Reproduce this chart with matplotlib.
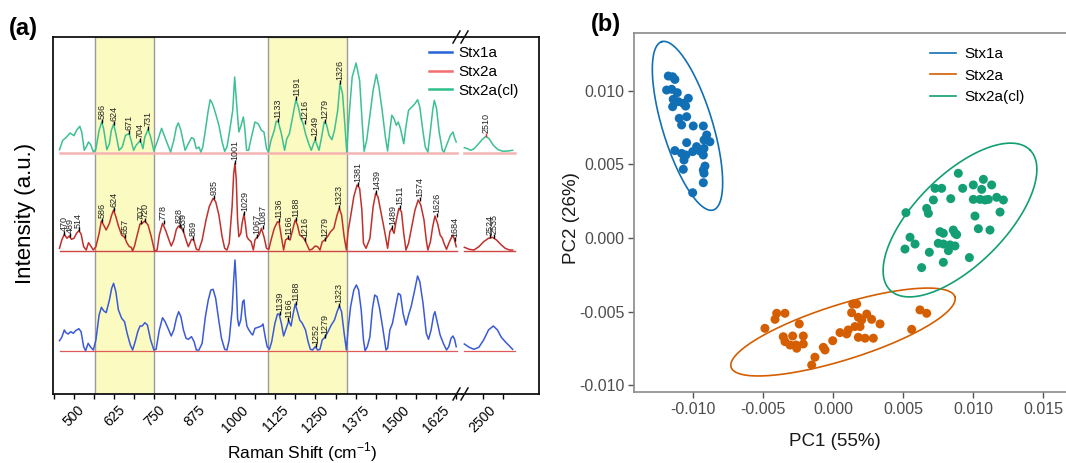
import numpy as np
import matplotlib
matplotlib.use('Agg')
import matplotlib.pyplot as plt
from matplotlib.lines import Line2D
from matplotlib.ticker import FixedLocator, FuncFormatter

plt.rcParams['font.family'] = ['Liberation Sans', 'DejaVu Sans']
plt.rcParams['axes.unicode_minus'] = False

# ---------------- panel (a): Raman spectra (intensity above own baseline, a.u.)
stx2acl_x = [455, 465, 475, 488, 500, 508, 518, 524, 532, 538, 545, 552, 560, 568, 578, 586, 592, 602, 610, 616,
             623, 630, 640, 650, 660, 671, 677, 685, 693, 704, 709, 714, 720, 730, 738, 748, 760, 772, 780, 788,
             800, 810, 818, 824, 832, 845, 855, 865, 872, 880, 888, 894, 900, 908, 917, 923, 930, 940, 950, 960,
             968, 975, 982, 993, 999, 1005, 1012, 1019, 1026, 1030, 1036, 1042, 1050, 1062, 1072, 1082, 1090, 1098, 1104, 1112,
             1122, 1128, 1134, 1144, 1154, 1161, 1169, 1179, 1189, 1197, 1204, 1211, 1219, 1229, 1237, 1244, 1249, 1255, 1261, 1269,
             1277, 1284, 1292, 1301, 1309, 1319, 1326, 1334, 1341, 1347, 1354, 1364, 1376, 1387, 1394, 1401, 1409, 1421, 1429, 1439,
             1447, 1457, 1467, 1474, 1481, 1487, 1494, 1501, 1507, 1514, 1524, 1531, 1539, 1549, 1559, 1567, 1574, 1584, 1591, 1599,
             1607, 1614, 1619, 1626, 1634, 1644, 1649, 1659, 1669, 1677, 1682, 1687]
stx2acl_y = [3.3, 12.7, 15.3, 20, 17.3, 22.7, 26.7, 21, 2.7, 6, 11, 8.3, 1, 4, 22.7, 31, 24.3, 3.3, 9.3, 22.7,
             28.7, 19.3, 2.7, 6, 17.7, 19.3, 13.3, 2.7, 7.7, 12, 10, 4.3, 16, 23.7, 16, 2, 12.7, 24.7, 17.7, 11,
             1, 12.7, 26, 30, 22.7, 2.7, 9.3, 15.3, 14.3, 4.3, 6, 1, 6, 22.7, 42.7, 53.3, 49.3, 39.3, 27.7, 11,
             1.7, 6, 19.3, 42.7, 76, 49.3, 21, 27.7, 36, 26, 2.7, 2.7, 14.3, 31, 29.3, 22.7, 21, 4.3, 1, 12.7,
             22.7, 31.7, 31.7, 19.3, 2.7, 14.3, 19.3, 36, 53.3, 46, 34.3, 30, 19.3, 9.3, 2.7, 9.3, 13.3, 7.7, 2.7, 16,
             31, 28.7, 17.7, 13.3, 22.7, 42.7, 69.3, 59.3, 29.3, 1, 36, 76, 90, 72.7, 36, 1.7, 12.7, 42.7, 62.7, 78.7,
             66, 42.7, 16, 2, 22.7, 37.7, 34.3, 27.7, 31, 24.3, 9.3, 26.7, 42.7, 46, 49.3, 53.3, 46, 21, 6, 1,
             22.7, 42.7, 52.7, 44.3, 21, 2.7, 1, 9.3, 17.7, 21, 15.3, 11]
stx2acl_hx = [2443, 2453, 2463, 2473, 2483, 2498, 2510, 2520, 2533, 2548, 2563, 2578, 2593]
stx2acl_hy = [5.3, 4.3, 2.7, 4.3, 7.7, 13.3, 16.7, 14.3, 7.7, 3.3, 1.7, 2, 2.7]

stx2a_x = [455, 462, 470, 478, 485, 492, 500, 508, 515, 522, 530, 538, 545, 552, 560, 568, 578, 585, 592, 600,
           610, 616, 623, 630, 638, 648, 657, 665, 672, 678, 682, 688, 695, 705, 712, 720, 730, 740, 750, 758,
           765, 775, 785, 795, 802, 810, 818, 825, 832, 840, 848, 855, 865, 872, 880, 888, 898, 910, 920, 932,
           940, 950, 960, 968, 975, 982, 991, 996, 1000, 1004, 1008, 1012, 1018, 1022, 1028, 1032, 1037, 1042, 1050, 1057,
           1062, 1068, 1075, 1082, 1090, 1098, 1105, 1112, 1122, 1132,
           1137, 1144, 1151, 1157, 1164, 1171, 1179, 1187, 1194, 1201, 1209, 1217, 1224, 1231, 1239, 1249, 1257, 1264, 1271,
           1279, 1287, 1297, 1307, 1317, 1324, 1331, 1339, 1346, 1351, 1359, 1369, 1379, 1387, 1394, 1399, 1407, 1419, 1429, 1437,
           1444, 1454, 1464, 1474, 1481, 1487, 1494, 1501, 1509, 1517, 1524, 1531, 1539, 1549, 1559, 1569, 1577, 1587, 1594, 1599,
           1607, 1614, 1621, 1629, 1637, 1644, 1649, 1657, 1664, 1671, 1677, 1682, 1687]
stx2a_y = [2.7, 11, 16.7, 12.7, 15, 11.7, 12.7, 17.7, 20.3, 17, 4.3, 1, 8.3, 5, 1, 4.3, 17.7, 30, 26, 21,
           27.7, 35, 41, 34.3, 25, 16, 13.7, 7.7, 4.3, 3.7, 0, 5, 14.3, 27, 27.7, 30, 26, 14.3, 0, 1,
           16, 27.7, 20.3, 11, 5, 11, 21.7, 25, 23.7, 19.3, 11, 4.3, 11.7, 11, 1.7, 1, 11, 31, 44.3, 52.7,
           49.3, 36, 14.3, 2.7, 1, 7.7, 44.3, 77.7, 87.7, 71, 31, 14.3, 17.7, 27.7, 37, 27.7, 14.3, 11.7, 9.3, 1,
           11, 13.7, 16, 22.7, 14.3, 2.7, 1.7, 11, 22.7, 29.3,
           28.3, 14.3, 1, 11, 12.7, 11, 21, 31, 26, 16, 14.3, 11, 6, 1, 1.7, 5, 4.3, 1, 9.3,
           11, 14.3, 19.3, 22.7, 36, 42.7, 36, 14.3, 1, 19.3, 34.3, 54.3, 66, 62.7, 41, 7.7, 2.7, 12.7, 44.3, 57.7,
           54.3, 37.7, 21, 2.7, 19.3, 22.7, 17.7, 31, 42.7, 39.3, 17.7, 1, 7.7, 24.3, 41, 51, 46, 31, 11, 1,
           9.3, 24.3, 35, 27.7, 16, 12.7, 7.7, 1.7, 7.7, 12.7, 16, 11, 4.3]
stx2a_hx = [2443, 2458, 2473, 2488, 2503, 2518, 2530, 2543, 2558, 2570, 2583, 2593]
stx2a_hy = [3.7, 1.7, 1, 4.3, 9.3, 12.7, 13.7, 11, 6, 2.7, 1, 1]

stx1a_x = [455, 462, 470, 475, 482, 490, 498, 505, 515, 522, 530, 536, 544, 552, 560, 568, 578, 585, 592, 600,
           610, 617, 623, 630, 638, 648, 657, 665, 675, 682, 690, 698, 705, 712, 720, 728, 738, 748, 755, 765,
           775, 783, 792, 802, 810, 818, 825, 832, 840, 848, 855, 865, 873, 880, 888, 898, 908, 917, 925, 932,
           940, 948, 958, 968, 975, 982, 991, 996, 1000, 1004, 1008, 1012, 1018, 1024, 1028, 1032, 1037, 1042, 1050, 1055,
           1062, 1072, 1082, 1087, 1094, 1100, 1107, 1114, 1124, 1132,
           1137, 1144, 1151, 1159, 1167, 1174, 1181, 1187, 1194, 1201, 1209, 1219, 1227, 1234, 1241, 1249, 1257, 1264, 1271,
           1279, 1289, 1299, 1309, 1317, 1324, 1331, 1339, 1346, 1351, 1359, 1369, 1377, 1384, 1392, 1399, 1404, 1411, 1419, 1427,
           1434, 1441, 1449, 1459, 1469, 1474, 1481, 1489, 1497, 1507, 1514, 1522, 1531, 1539, 1547, 1557, 1567, 1574, 1584, 1594,
           1601, 1609, 1617, 1621, 1629, 1637, 1647, 1657, 1664, 1671, 1677, 1682, 1687]
stx1a_y = [10.3, 13.7, 21, 18.3, 17, 19.3, 17.7, 20.3, 22.3, 19.3, 4.3, 0.3, 7.7, 3.7, 1, 11, 36, 43.7, 40.3, 38.3,
           51, 62.7, 67.7, 59.3, 41, 32.7, 29.3, 17.7, 6, 1, 9.3, 19.3, 25, 25, 28.3, 26, 11, 1, 1.7, 21,
           33.3, 29.3, 22.7, 15, 21, 32.7, 39.3, 34.3, 21, 12.7, 11.7, 14.3, 9.3, 1, 1, 7.7, 34.3, 51, 61, 61.7,
           52.7, 34.3, 12.7, 1.7, 1, 11, 41, 71, 91, 67.7, 32.7, 25, 31, 49.3, 51, 36, 25, 21.7, 17.7, 16,
           22.7, 23.7, 25, 27, 13.7, 4.3, 1.7, 9.3, 27.7, 37,
           37, 27.7, 15, 22.7, 30.3, 25, 37.7, 47, 39.3, 31, 27.7, 21, 9.3, 1.7, 1, 4.3, 1, 1.7, 11,
           13.7, 19.3, 26, 31, 39.3, 45, 39.3, 17.7, 1, 21, 44.3, 61, 66, 61, 41, 11, 0.3, 4.3, 14.3, 42.7,
           56, 54.3, 42.7, 22.7, 1, 2.7, 21, 27.7, 41, 57.7, 56, 37.7, 26, 36, 44.3, 59.3, 75, 69.3, 47.7, 17.7,
           11.7, 21, 36, 39.3, 27.7, 16, 7.7, 1, 4.3, 12.7, 15, 11.7, 4.3]
stx1a_hx = [2443, 2458, 2473, 2488, 2503, 2518, 2533, 2546, 2558, 2570, 2583, 2593]
stx1a_hy = [7, 3.7, 1.7, 3.7, 11, 21, 25, 21, 13.7, 9.3, 5, 1.7]

stx2acl_peaks = [586, 624, 671, 704, 731, 1133, 1191, 1216, 1249, 1279, 1326, 2510]
stx2a_peaks = [470, 489, 514, 586, 624, 657, 707, 720, 778, 828, 839, 869, 935, 1001, 1029, 1067, 1087,
               1136, 1166, 1188, 1216, 1279, 1323, 1381, 1439, 1489, 1511, 1574, 1626, 1684, 2524, 2535]
stx1a_peaks = [1139, 1166, 1188, 1252, 1279, 1323]

bands = [(565, 750), (1103, 1347)]
major_ticks = [500, 625, 750, 875, 1000, 1125, 1250, 1375, 1500, 1625]
minor_ticks = [437.5, 562.5, 687.5, 812.5, 937.5, 1062.5, 1187.5, 1312.5, 1437.5, 1562.5, 1687.5]

# ---------------- panel (b): PCA scores
stx1a_pc1 = [-0.01176, -0.01145, -0.01129, -0.01188, -0.01152, -0.01112, -0.01141, -0.01145, -0.01105, -0.01069,
             -0.01033, -0.01052, -0.01098, -0.01045, -0.01081, -0.00998, -0.00926, -0.00902, -0.00879, -0.00921,
             -0.00974, -0.01045, -0.01002, -0.0095, -0.00921, -0.00926, -0.01129, -0.01081, -0.0105, -0.01064,
             -0.00914, -0.00926, -0.00921, -0.01069, -0.00926, -0.01002]
stx1a_pc2 = [0.01099, 0.01094, 0.01076, 0.01004, 0.01009, 0.00986, 0.00941, 0.00891, 0.00925, 0.00914,
             0.00948, 0.00895, 0.00812, 0.00823, 0.00767, 0.0076, 0.0076, 0.00699, 0.00653, 0.00665,
             0.0062, 0.00647, 0.00586, 0.0059, 0.00608, 0.00563, 0.00593, 0.00574, 0.00563, 0.00529,
             0.00488, 0.00461, 0.00439, 0.00466, 0.00375, 0.00307]
stx2a_pc1 = [-0.00486, -0.00414, -0.00402, -0.00343, -0.00241, -0.00355, -0.00343, -0.00288, -0.00212, -0.00307,
             -0.00259, -0.00212, -0.00264, -0.00129, -0.00152, -0.00057, -0.00069, -0.00002, 0.0005, 0.00098,
             0.00109, 0.00157, 0.00141, 0.00169, 0.00133, 0.00181, 0.00205, 0.00241, 0.00276, 0.00193,
             0.00181, 0.00229, 0.00288, 0.00336, 0.00562, 0.00621, 0.00669]
stx2a_pc2 = [-0.00613, -0.00552, -0.00511, -0.00511, -0.00583, -0.0067, -0.00703, -0.00665, -0.00665, -0.00726,
             -0.00748, -0.00719, -0.00726, -0.00809, -0.00862, -0.0076, -0.00742, -0.00697, -0.00642, -0.00651,
             -0.00624, -0.00601, -0.00448, -0.00448, -0.00507, -0.00538, -0.00556, -0.00516, -0.00552, -0.00601,
             -0.00674, -0.0068, -0.0068, -0.00583, -0.0062, -0.00488, -0.00511]
stx2acl_pc1 = [0.00521, 0.00669, 0.00681, 0.00717, 0.00729, 0.00776, 0.00841, 0.00895, 0.00926, 0.01002,
               0.01074, 0.01062, 0.01133, 0.01002, 0.0105, 0.01086, 0.01109, 0.01169, 0.01217, 0.01193,
               0.01014, 0.01038, 0.01121, 0.00764, 0.00788, 0.00859, 0.00871, 0.0055, 0.00586, 0.00514,
               0.00688, 0.00752, 0.00788, 0.00836, 0.00824, 0.00871, 0.00883, 0.00788, 0.00974, 0.00633]
stx2acl_pc2 = [0.00172, 0.00201, 0.00167, 0.00258, 0.00337, 0.00337, 0.00267, 0.00439, 0.00337, 0.0036,
               0.00398, 0.0033, 0.0036, 0.00262, 0.00262, 0.00258, 0.00262, 0.00276, 0.00258, 0.00176,
               0.00149, 0.00063, 0.00054, 0.00043, 0.00032, 0.00054, 0.00032, 0.00005, -0.00041, -0.00075,
               -0.00097, -0.00036, -0.00041, -0.00047, -0.00086, -0.00054, 0.00023, -0.00165, -0.00133, -0.00201]

# confidence ellipses: centre, semi-major and semi-minor vectors (data units)
ell_center = [(-0.01039, 0.00761), (0.000714, -0.00638), (0.00907, 0.00122)]
ell_major = [(-0.00184, 0.00571), (0.00799, 0.00239), (0.005, 0.00475)]
ell_minor = [(0.00171, 0.000495), (0.000593, -0.001784), (0.00227, -0.00216)]

groups = ['Stx1a', 'Stx2a', 'Stx2a(cl)']
pca_colors = ['#1170B5', '#D55E00', '#139E74']

W, H = 1066, 463
fig = plt.figure(figsize=(W / 100, H / 100), dpi=100)

def box(x0, y0, x1, y1):
    return [x0 / W, 1 - y1 / H, (x1 - x0) / W, (y1 - y0) / H]

ax1 = fig.add_axes(box(53, 37, 462, 394))
ax2 = fig.add_axes(box(462, 37, 539, 394))
ylim = (0, 357)
offsets = {'Stx1a': 43, 'Stx2a': 143, 'Stx2a(cl)': 241}
spec_colors = {'Stx1a': '#3a5ad8', 'Stx2a': '#c0302c', 'Stx2a(cl)': '#3cc191'}
base_colors = {'Stx1a': '#e05a5a', 'Stx2a': '#d04545', 'Stx2a(cl)': '#f5b4b4'}
base_lw = {'Stx1a': 0.9, 'Stx2a': 1.0, 'Stx2a(cl)': 1.8}

spectra = {
    'Stx1a': (stx1a_x, stx1a_y, stx1a_hx, stx1a_hy, stx1a_peaks),
    'Stx2a': (stx2a_x, stx2a_y, stx2a_hx, stx2a_hy, stx2a_peaks),
    'Stx2a(cl)': (stx2acl_x, stx2acl_y, stx2acl_hx, stx2acl_hy, stx2acl_peaks),
}

for lo, hi in bands:
    ax1.axvspan(lo, hi, facecolor='#fbfbc1', edgecolor='#9a9a9a', lw=1.0, zorder=0)

for name, (x, y, hx, hy, peaks) in spectra.items():
    off = offsets[name]
    ax1.plot([455, 1690], [off, off], color=base_colors[name], lw=base_lw[name], zorder=1)
    ax2.plot([2443, 2600], [off, off], color=base_colors[name], lw=base_lw[name], zorder=1)
    ax1.plot(x, np.array(y) + off, color=spec_colors[name], lw=1.1, zorder=2)
    ax2.plot(hx, np.array(hy) + off, color=spec_colors[name], lw=1.1, zorder=2)
    for pk in peaks:
        if pk > 2000:
            ax, xx, yy = ax2, np.array(hx), np.array(hy)
        else:
            ax, xx, yy = ax1, np.array(x), np.array(y)
        near = np.abs(xx - pk) <= 5
        h = yy[near].max() if near.any() else np.interp(pk, xx, yy)
        mcol = '#e03030' if (name == 'Stx2a(cl)' and pk > 2000) else 'k'
        ax.plot([pk], [off + h + 1.5], marker='|', ms=3.5, mew=1.0, color=mcol, zorder=3)
        ax.text(pk, off + h + 3.2, str(pk), rotation=90, ha='center', va='bottom',
                fontsize=6.5, color='#222222', zorder=3)

ax1.set_xlim(434.8, 1705)
ax2.set_xlim(2435.7, 2675)
for ax in (ax1, ax2):
    ax.set_ylim(*ylim)
    ax.set_yticks([])
    for s in ax.spines.values():
        s.set_linewidth(1.3)
        s.set_color('#111111')
    ax.tick_params(axis='x', which='both', direction='out', length=3.5, width=1.0,
                   labelsize=10, pad=3)
ax1.spines['right'].set_visible(False)
ax2.spines['left'].set_visible(False)
ax1.xaxis.set_major_locator(FixedLocator(major_ticks))
ax1.xaxis.set_minor_locator(FixedLocator(minor_ticks))
ax2.xaxis.set_major_locator(FixedLocator([2500]))
ax2.xaxis.set_minor_locator(FixedLocator([2562.5]))
for ax in (ax1, ax2):
    for lab in ax.get_xticklabels():
        lab.set_rotation(45)
        lab.set_ha('center')

# break marks
for yb in (37, 394):
    for xs in (453, 461):
        fig.add_artist(Line2D([xs / W, (xs + 7) / W], [1 - (yb + 6) / H, 1 - (yb - 6) / H],
                              color='#111111', lw=1.1))

fig.text(25 / W, 1 - 213 / H, 'Intensity (a.u.)', rotation=90, ha='center', va='center', fontsize=16)
fig.text(302 / W, 1 - 452 / H, 'Raman Shift (cm$^{\\mathregular{-1}}$)', ha='center', va='center', fontsize=12.5)
fig.text(23 / W, 1 - 28 / H, '(a)', ha='center', va='center', fontsize=17, fontweight='bold')

leg_handles = [Line2D([], [], color=c, lw=1.8) for c in ['#2563d6', '#f26d6d', '#2fbf88']]
fig.legend(leg_handles, groups, loc='upper left', bbox_to_anchor=(429 / W, 1 - 46 / H),
           frameon=False, fontsize=11, handlelength=1.5, handletextpad=0.45,
           labelspacing=0.32, borderpad=0, borderaxespad=0)

# ---------------- panel (b)
ax3 = fig.add_axes(box(634, 33, 1066, 392))
pcs = [(stx1a_pc1, stx1a_pc2), (stx2a_pc1, stx2a_pc2), (stx2acl_pc1, stx2acl_pc2)]
t = np.linspace(0, 2 * np.pi, 300)
for (p1, p2), c, cen, u, v, g in zip(pcs, pca_colors, ell_center, ell_major, ell_minor, groups):
    ax3.scatter(p1, p2, s=42, color=c, edgecolors='none', zorder=3)
    ex = cen[0] + u[0] * np.cos(t) + v[0] * np.sin(t)
    ey = cen[1] + u[1] * np.cos(t) + v[1] * np.sin(t)
    ax3.plot(ex, ey, color=c, lw=1.2, label=g, zorder=2)

ax3.set_xlim(-0.01421, 0.01664)
ax3.set_ylim(-0.01045, 0.01391)
ax3.set_xticks([-0.010, -0.005, 0.0, 0.005, 0.010, 0.015])
ax3.set_yticks([-0.010, -0.005, 0.0, 0.005, 0.010])
fmt = FuncFormatter(lambda v, p: f'{v:.3f}')
ax3.xaxis.set_major_formatter(fmt)
ax3.yaxis.set_major_formatter(fmt)
for side in ('left', 'bottom', 'top'):
    ax3.spines[side].set_color('#8a8a8a')
    ax3.spines[side].set_linewidth(1.2)
ax3.spines['right'].set_visible(False)
ax3.tick_params(direction='out', length=4, width=1.0, color='#555555',
                labelsize=11.5, labelcolor='#4D4D4D', pad=3)
ax3.set_xlabel('PC1 (55%)', fontsize=13.5, color='#1a1a1a', va='center')
ax3.xaxis.set_label_coords((835 - 634) / 432, (392 - 441) / 359)
ax3.set_ylabel('PC2 (26%)', fontsize=13.5, color='#1a1a1a', va='center')
ax3.yaxis.set_label_coords((571 - 634) / 432, (392 - 218) / 359)
ax3.legend(loc='upper left', bbox_to_anchor=(930 / W, 1 - 47 / H), bbox_transform=fig.transFigure,
           frameon=False, fontsize=11, handlelength=1.7, handletextpad=0.55,
           labelspacing=0.5, borderpad=0, borderaxespad=0)
fig.text(606 / W, 1 - 25 / H, '(b)', ha='center', va='center', fontsize=17, fontweight='bold')

fig.savefig('out.png', dpi=100)
